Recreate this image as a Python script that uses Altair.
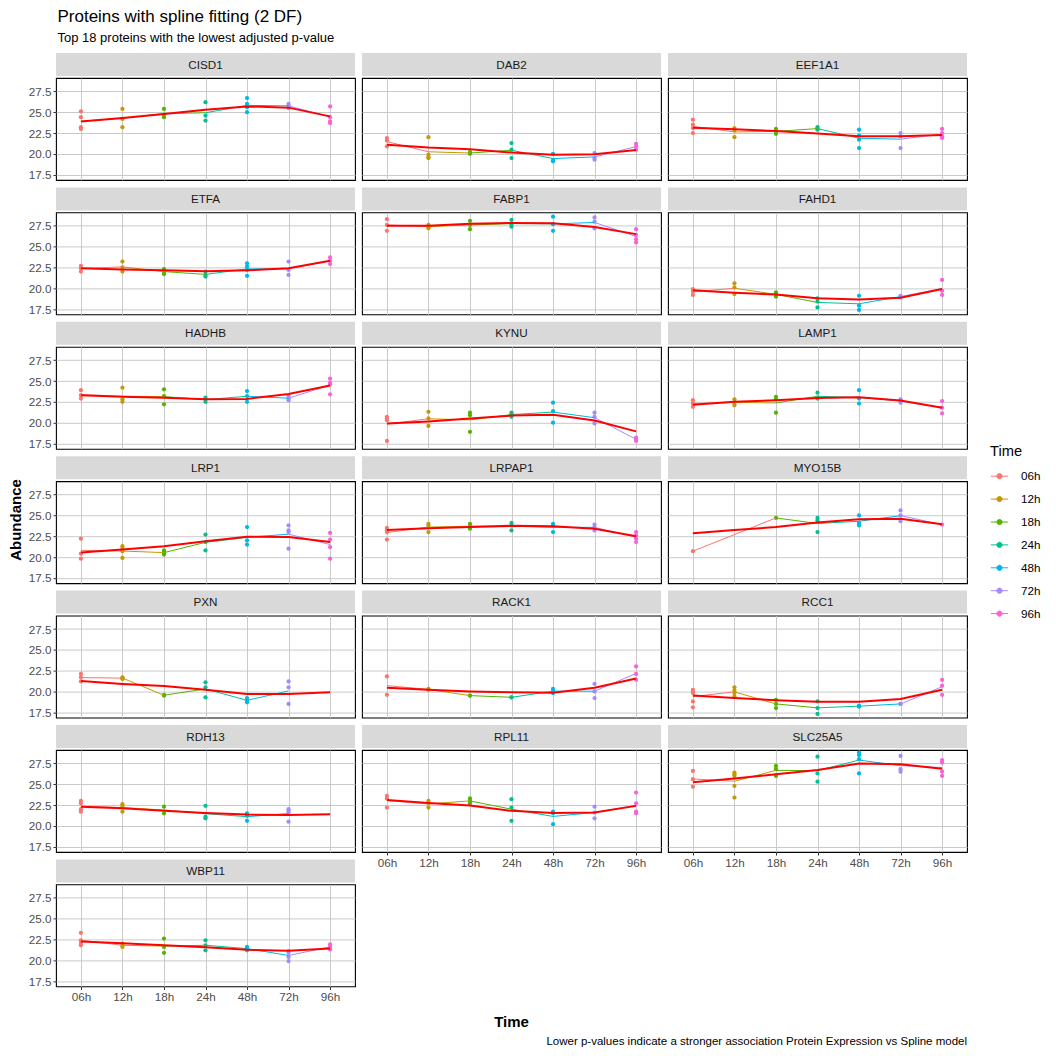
import json
import numpy as np
import pandas as pd
import altair as alt

FONT = "Liberation Sans"
TITLE = "Proteins with spline fitting (2 DF)"
SUBTITLE = "Top 18 proteins with the lowest adjusted p-value"
X_TITLE = "Time"
Y_TITLE = "Abundance"
CAPTION = "Lower p-values indicate a stronger association Protein Expression vs Spline model"

TIMES = ["06h", "12h", "18h", "24h", "48h", "72h", "96h"]
COLORS = ["#F8766D", "#C49A00", "#53B400", "#00C094", "#00B6EB", "#A58AFF", "#FB61D7"]
Y_TICKS = [17.5, 20.0, 22.5, 25.0, 27.5]

PROTEINS = ["CISD1", "DAB2", "EEF1A1", "ETFA", "FABP1", "FAHD1", "HADHB", "KYNU", "LAMP1",
            "LRP1", "LRPAP1", "MYO15B", "PXN", "RACK1", "RCC1", "RDH13", "RPL11", "SLC25A5", "WBP11"]

# replicate abundances per time point (06h, 12h, 18h, 24h, 48h, 72h, 96h)
CISD1 = [[25.1, 24.4, 23.2, 23.0], [25.4, 24.2, 23.2], [25.4, 24.7, 24.4], [26.2, 24.6, 24.0],
         [26.7, 26.0, 25.6, 25.0], [26.0, 25.8, 25.5], [25.7, 24.4, 23.9, 23.7]]
DAB2 = [[21.9, 21.6, 20.9], [22.0, 19.9, 19.6, 19.5], [20.2, 20.1, 20.0], [21.3, 20.5, 19.5],
        [20.0, 19.2, 19.1], [20.1, 19.5, 19.3], [21.2, 20.9, 20.5]]
EEF1A1 = [[24.1, 23.5, 23.1, 22.5], [23.1, 22.8, 22.0], [23.0, 22.7, 22.4], [23.2, 23.0, 22.9],
          [22.9, 22.2, 21.7, 20.7], [22.5, 22.1, 20.7], [23.0, 22.5, 22.1, 21.9]]
ETFA = [[22.7, 22.4, 22.0], [23.2, 22.5, 22.0], [22.3, 22.0, 21.7], [22.0, 21.6, 21.4],
        [23.0, 22.6, 22.2, 21.5], [23.2, 22.2, 21.6], [23.7, 23.3, 22.9]]
FABP1 = [[28.3, 27.6, 26.9], [27.6, 27.4, 27.2], [28.1, 27.6, 27.1], [28.2, 27.7, 27.4],
         [28.6, 27.7, 26.9], [28.5, 28.0, 27.2], [27.1, 26.4, 25.9, 25.5]]
FAHD1 = [[19.9, 19.6, 19.2], [20.6, 20.1, 19.3], [19.5, 19.3, 19.0], [18.8, 18.4, 17.7],
         [19.1, 17.9, 17.4], [19.1, 19.0, 18.9], [21.0, 19.7, 19.2]]
HADHB = [[23.9, 23.3, 22.9], [24.2, 22.8, 22.5], [24.0, 23.2, 22.2], [23.0, 22.8, 22.5],
         [23.8, 23.2, 22.5], [23.2, 22.9, 22.7], [25.3, 24.8, 24.6, 23.4]]
KYNU = [[20.7, 20.5, 20.3, 17.8], [21.3, 20.5, 19.6], [21.2, 20.9, 18.9], [21.2, 21.0, 20.7],
        [22.4, 21.4, 20.0], [21.2, 20.7, 19.9], [18.2, 18.0, 17.8]]
LAMP1 = [[22.7, 22.3, 21.9], [22.8, 22.4, 22.1], [23.1, 22.8, 21.2], [23.6, 23.0, 22.9],
         [23.9, 22.9, 22.3], [22.8, 22.6, 22.4], [22.6, 21.8, 21.1]]
LRP1 = [[22.2, 20.4, 19.8], [21.3, 21.0, 20.7, 19.9], [20.8, 20.5, 20.3], [22.7, 21.8, 20.8],
        [23.6, 22.0, 21.5], [23.8, 23.2, 23.0, 21.0], [22.9, 22.1, 21.2, 19.8]]
LRPAP1 = [[23.5, 23.2, 23.0, 22.1], [24.0, 23.8, 23.0], [24.0, 23.7, 23.4], [24.1, 23.8, 23.2],
          [24.0, 23.7, 23.0], [23.9, 23.6, 23.2], [23.0, 22.6, 22.2, 21.8]]
MYO15B = [[20.7], [], [24.7], [24.7, 24.4, 23.0], [25.0, 24.1, 23.8], [25.6, 25.0, 24.3], [23.9]]
PXN = [[22.1, 21.7, 21.2], [21.7, 21.6, 21.5], [19.6, 19.5], [21.1, 20.5, 19.3],
       [19.2, 18.9, 18.7], [21.2, 20.5, 18.5], []]
RACK1 = [[21.8, 19.6], [20.3, 20.2], [19.5, 19.5], [19.3, 19.3], [20.3, 20.0, 19.8],
         [20.9, 20.0, 19.2], [23.0, 22.1, 21.4]]
RCC1 = [[20.2, 20.0, 19.8, 18.8, 18.1], [20.5, 20.1, 19.8, 19.4], [19.0, 18.5, 18.0],
        [18.8, 18.0, 17.3], [18.3, 18.2, 18.2], [18.5, 18.5], [21.4, 20.7, 19.6]]
RDH13 = [[23.0, 22.7, 22.0, 21.7], [22.6, 22.3, 21.7], [22.3, 21.5], [22.4, 21.1, 20.9],
         [21.5, 21.2, 20.6], [22.0, 21.8, 21.6, 20.5], []]
RPL11 = [[23.6, 23.3, 22.2], [23.0, 22.7, 22.2], [23.3, 23.0, 22.7], [23.2, 22.2, 20.6],
         [21.7, 21.5, 20.2], [22.3, 21.6, 20.9], [24.0, 22.7, 21.7, 21.5]]
SLC25A5 = [[26.6, 25.6, 24.7], [26.4, 26.2, 26.0, 24.8, 23.4], [27.2, 26.8, 26.0], [28.3, 26.3, 25.3],
           [28.8, 28.5, 28.0, 26.3], [28.4, 26.8, 26.5], [27.9, 27.6, 26.5, 26.0]]
WBP11 = [[23.3, 22.4, 22.1, 21.8], [22.0, 21.8, 21.6], [22.6, 21.6, 20.9], [22.4, 21.8, 21.2],
         [21.6, 21.4, 21.2], [21.1, 20.9, 20.4, 19.9], [21.9, 21.6, 21.3]]

# spline fit (red line) values read at each time point
FIT_CISD1 = [23.9, 24.3, 24.8, 25.3, 25.7, 25.55, 24.5]
FIT_DAB2 = [21.1, 20.75, 20.55, 20.15, 19.9, 19.95, 20.45]
FIT_EEF1A1 = [23.15, 22.95, 22.75, 22.45, 22.1, 22.1, 22.25]
FIT_ETFA = [22.4, 22.25, 22.15, 22.05, 22.15, 22.4, 23.3]
FIT_FABP1 = [27.5, 27.5, 27.75, 27.85, 27.8, 27.35, 26.5]
FIT_FAHD1 = [19.75, 19.45, 19.25, 18.8, 18.65, 18.85, 19.9]
FIT_HADHB = [23.3, 23.1, 23.0, 22.8, 22.85, 23.45, 24.45]
FIT_KYNU = [19.9, 20.15, 20.5, 20.85, 20.95, 20.25, 18.95]
FIT_LAMP1 = [22.15, 22.5, 22.7, 22.95, 23.05, 22.65, 21.8]
FIT_LRP1 = [20.55, 20.9, 21.3, 21.9, 22.45, 22.4, 21.8]
FIT_LRPAP1 = [23.25, 23.45, 23.6, 23.75, 23.7, 23.4, 22.5]
FIT_MYO15B = [22.85, 23.25, 23.6, 24.15, 24.55, 24.6, 23.95]
FIT_PXN = [21.25, 20.9, 20.65, 20.2, 19.7, 19.7, 19.9]
FIT_RACK1 = [20.45, 20.2, 20.0, 19.9, 19.85, 20.45, 21.55]
FIT_RCC1 = [19.5, 19.2, 18.95, 18.75, 18.75, 19.1, 20.2]
FIT_RDH13 = [22.3, 22.1, 21.8, 21.55, 21.35, 21.3, 21.4]
FIT_RPL11 = [23.1, 22.75, 22.45, 21.8, 21.55, 21.6, 22.4]
FIT_SLC25A5 = [25.25, 25.7, 26.2, 26.7, 27.5, 27.4, 26.85]
FIT_WBP11 = [22.25, 22.05, 21.8, 21.55, 21.25, 21.15, 21.4]

SERIES = {"CISD1": (CISD1, FIT_CISD1), "DAB2": (DAB2, FIT_DAB2), "EEF1A1": (EEF1A1, FIT_EEF1A1),
          "ETFA": (ETFA, FIT_ETFA), "FABP1": (FABP1, FIT_FABP1), "FAHD1": (FAHD1, FIT_FAHD1),
          "HADHB": (HADHB, FIT_HADHB), "KYNU": (KYNU, FIT_KYNU), "LAMP1": (LAMP1, FIT_LAMP1),
          "LRP1": (LRP1, FIT_LRP1), "LRPAP1": (LRPAP1, FIT_LRPAP1), "MYO15B": (MYO15B, FIT_MYO15B),
          "PXN": (PXN, FIT_PXN), "RACK1": (RACK1, FIT_RACK1), "RCC1": (RCC1, FIT_RCC1),
          "RDH13": (RDH13, FIT_RDH13), "RPL11": (RPL11, FIT_RPL11),
          "SLC25A5": (SLC25A5, FIT_SLC25A5), "WBP11": (WBP11, FIT_WBP11)}

rows = []
for p in PROTEINS:
    reps, fit = SERIES[p]
    means = []
    for i, vals in enumerate(reps):
        for v in vals:
            rows.append(dict(protein=p, kind="pt", time=TIMES[i], x=float(i), y=v))
        if vals:
            means.append((i, float(np.mean(vals))))
    for (i0, m0), (i1, m1) in zip(means[:-1], means[1:]):
        rows.append(dict(protein=p, kind="seg", time=TIMES[i0], x=float(i0), y=m0,
                         x2=float(i1), y2=m1))
    for i, gy in enumerate(fit):
        rows.append(dict(protein=p, kind="fit", time=TIMES[i], x=float(i), y=gy))

df = pd.DataFrame(rows)

W, H = 299, 102
NCOL = 3
GRID = "#C4C4C4"

label_expr = json.dumps(TIMES) + "[datum.value]"
xscale = alt.Scale(domain=[-0.6, 6.6], nice=False, zero=False)
yscale = alt.Scale(domain=[16.86, 29.11], nice=False, zero=False)


def x_axis(show):
    return alt.Axis(values=list(range(len(TIMES))), labelExpr=label_expr, title=None, grid=True,
                    gridColor=GRID, gridWidth=0.9, ticks=show, labels=show, tickSize=3,
                    tickColor="#333333", labelColor="#4D4D4D", labelFontSize=11.7,
                    labelPadding=2, domain=False, labelFont=FONT, labelOverlap=False)


def y_axis(show):
    return alt.Axis(values=Y_TICKS, format=".1f", title=None, grid=True, gridColor=GRID,
                    gridWidth=0.9, ticks=show, labels=show, tickSize=3, tickColor="#333333",
                    labelColor="#4D4D4D", labelFontSize=11.7, labelPadding=2, domain=False,
                    labelFont=FONT, labelOverlap=False, labelFlush=False)


SYMBOL = "M-1,0L1,0M-0.3,0A0.3,0.3,0,1,1,0.3,0A0.3,0.3,0,1,1,-0.3,0Z"
legend = alt.Legend(title="Time", orient="none", legendX=981, legendY=366, symbolType=SYMBOL,
                    symbolSize=300, symbolStrokeWidth=1, symbolOpacity=1,
                    titleFontSize=14.7, titleFontWeight="normal", titleColor="black",
                    titleFont=FONT, labelFont=FONT, labelFontSize=11.7, labelColor="black",
                    rowPadding=5.9, labelOffset=12, titlePadding=8)
color = alt.Color("time:N", scale=alt.Scale(domain=TIMES, range=COLORS), legend=legend)

n = len(PROTEINS)
panels = []
for idx, p in enumerate(PROTEINS):
    col = idx % NCOL
    show_x = idx + NCOL >= n          # last panel in its column
    show_y = col == 0
    X = alt.X("x:Q", scale=xscale, axis=x_axis(show_x))
    Y = alt.Y("y:Q", scale=yscale, axis=y_axis(show_y))
    base = alt.Chart().transform_filter(alt.datum.protein == p)
    strip_rect = base.transform_aggregate(n="count()", groupby=["protein"]).mark_rect(
        color="#D9D9D9").encode(x=alt.value(0), x2=alt.value(W), y=alt.value(-25),
                                y2=alt.value(-2))
    strip_text = base.transform_aggregate(n="count()", groupby=["protein"]).mark_text(
        fontSize=11.7, color="#1A1A1A", font=FONT).encode(
        text="protein:N", x=alt.value(W / 2), y=alt.value(-13.5))
    points = base.transform_filter("datum.kind == 'pt'").mark_circle(size=18, opacity=1).encode(
        x=X, y=Y, color=color)
    segs = base.transform_filter("datum.kind == 'seg'").mark_rule(strokeWidth=1).encode(
        x=X, x2="x2:Q", y=Y, y2="y2:Q", color=color)
    fitline = base.transform_filter("datum.kind == 'fit'").mark_line(
        color="#FF0000", strokeWidth=2).encode(x=X, y=Y, order="x:Q")
    panels.append(alt.layer(strip_rect, strip_text, points, segs, fitline).properties(
        width=W, height=H))

grid = alt.concat(*panels, columns=NCOL, spacing={"row": 32.4, "column": 7}, bounds="flush")

ylab = alt.Chart(pd.DataFrame({"t": [Y_TITLE]})).mark_text(
    angle=270, fontSize=15, fontWeight="bold", font=FONT, color="black").encode(
    text="t:N", x=alt.value(7), y=alt.value(442)).properties(
    width=16, height=900, view=alt.ViewBackground(stroke="transparent"))

xt = alt.Chart(pd.DataFrame({"t": [X_TITLE]})).mark_text(
    fontSize=15, fontWeight="bold", font=FONT, color="black").encode(
    text="t:N", x=alt.value(455.5), y=alt.value(14))
cap = alt.Chart(pd.DataFrame({"t": [CAPTION]})).mark_text(
    fontSize=11.5, font=FONT, color="black", align="right").encode(
    text="t:N", x=alt.value(911), y=alt.value(34))
bottom = alt.layer(xt, cap).properties(width=911, height=36,
                                       view=alt.ViewBackground(stroke="transparent"))

chart = alt.hconcat(ylab, alt.vconcat(grid, bottom, spacing=3), spacing=1, data=df).properties(
    title=alt.TitleParams(text=TITLE, subtitle=SUBTITLE, anchor="start", dx=49, fontSize=17,
                          fontWeight="normal", subtitleFontSize=13, subtitlePadding=6, offset=6,
                          color="black", subtitleColor="black", font=FONT, subtitleFont=FONT),
    padding={"left": 0, "top": 0, "right": 0, "bottom": 0},
).configure(font=FONT).configure_view(stroke="black", strokeWidth=1.1).configure_axis(
    labelOverlap=False)

chart.save("out.html", embed_options={"renderer": "svg", "actions": False})
